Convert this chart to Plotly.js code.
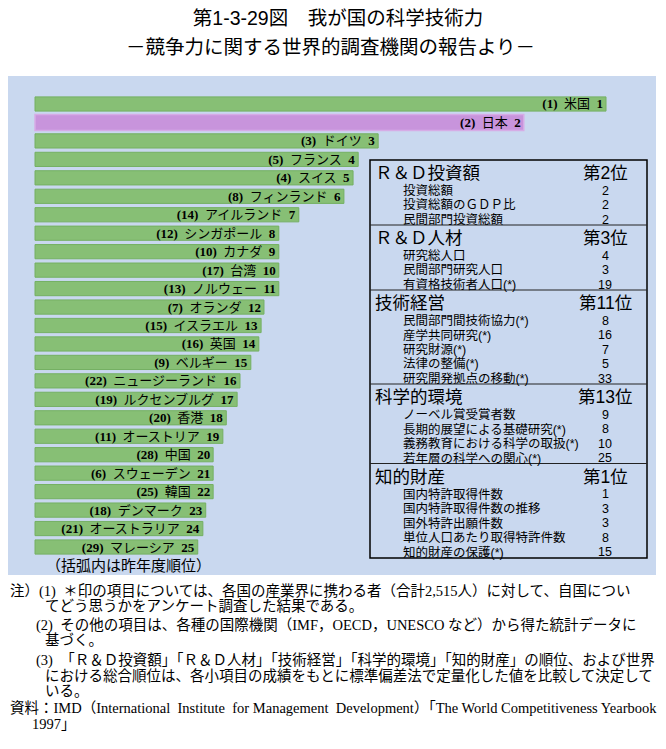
<!DOCTYPE html>
<html>
<head>
<meta charset="utf-8">
<script src="https://cdn.plot.ly/plotly-3.0.1.min.js"></script>
<style>
html,body{margin:0;padding:0;background:#fff;}
#chart{width:666px;height:749px;}
</style>
</head>
<body>
<div id="chart"></div>
<script>
// ---- data ----
const countries = ['米国','日本','ドイツ','フランス','スイス','フィンランド','アイルランド','シンガポール','カナダ','台湾','ノルウェー','オランダ','イスラエル','英国','ベルギー','ニュージーランド','ルクセンブルグ','香港','オーストリア','中国','スウェーデン','韓国','デンマーク','オーストラリア','マレーシア'];
const ranks = [1,2,3,4,5,6,7,8,9,10,11,12,13,14,15,16,17,18,19,20,21,22,23,24,25];
const prevRanks = [1,2,3,5,4,8,14,12,10,17,13,7,15,16,9,22,19,20,11,28,6,25,18,21,29];
const scores = [100,85.6,60.1,56.6,55.7,54.1,46.2,42.7,42.7,42.7,42.7,40.1,39.6,39.2,37.8,35.9,35.4,33.5,32.9,31.2,31.2,31.2,29.9,29.4,28.5];

const sectionNames = ['Ｒ＆Ｄ投資額','Ｒ＆Ｄ人材','技術経営','科学的環境','知的財産'];
const sectionRanks = ['第2位','第3位','第11位','第13位','第1位'];
const sectionItems = [
  ['投資総額','投資総額のＧＤＰ比','民間部門投資総額'],
  ['研究総人口','民間部門研究人口','有資格技術者人口(*)'],
  ['民間部門間技術協力(*)','産学共同研究(*)','研究財源(*)','法律の整備(*)','研究開発拠点の移動(*)'],
  ['ノーベル賞受賞者数','長期的展望による基礎研究(*)','義務教育における科学の取扱(*)','若年層の科学への関心(*)'],
  ['国内特許取得件数','国内特許取得件数の推移','国外特許出願件数','単位人口あたり取得特許件数','知的財産の保護(*)']
];
const sectionValues = [
  [2,2,2],
  [4,3,19],
  [8,16,7,5,33],
  [9,8,10,25],
  [1,3,3,8,15]
];

const titleText = '第1-3-29図　我が国の科学技術力';
const subtitleText = '－競争力に関する世界的調査機関の報告より－';
const noteParen = '（括弧内は昨年度順位）';
const notes = [
  '注）(1)  ＊印の項目については、各国の産業界に携わる者（合計2,515人）に対して、自国につい',
  'てどう思うかをアンケート調査した結果である。',
  '(2)  その他の項目は、各種の国際機関（IMF，OECD，UNESCO など）から得た統計データに',
  '基づく。',
  '(3)  「Ｒ＆Ｄ投資額」「Ｒ＆Ｄ人材」「技術経営」「科学的環境」「知的財産」の順位、および世界',
  'における総合順位は、各小項目の成績をもとに標準偏差法で定量化した値を比較して決定して',
  'いる。',
  '資料：IMD（International  Institute  for Management  Development）「The World Competitiveness Yearbook',
  '1997」'
];

// ---- layout helpers ----
const L = 8, T = 76, W = 648, H = 499;
const px = x => (x - L) / W;
const py = y => 1 - (y - T) / H;
const JPS = 'Liberation Sans, Noto Sans CJK JP, sans-serif';
const JPSERIF = 'Liberation Serif, Noto Sans CJK JP, serif';

const colors = countries.map((c, i) => i === 1 ? '#C894DC' : '#87BF75');
const lineColors = countries.map((c, i) => i === 1 ? '#D6ACE6' : '#74B062');
const lineWidths = countries.map((c, i) => i === 1 ? 1.5 : 1);
const widths = countries.map((c, i) => i === 1 ? 0.86 : 0.77);
const labels = countries.map((c, i) => '<b>(' + prevRanks[i] + ')</b>  ' + c + '  <b>' + ranks[i] + '</b>');

const trace = {
  type: 'bar',
  orientation: 'h',
  x: scores,
  y: countries,
  width: widths,
  text: labels,
  textposition: 'inside',
  insidetextanchor: 'end',
  constraintext: 'none',
  textangle: 0,
  insidetextfont: {family: JPSERIF, size: 13, color: '#000'},
  marker: {color: colors, line: {color: lineColors, width: lineWidths}},
  hoverinfo: 'none'
};

const pxPerUnit = 5.71;
const annotations = [];
const shapes = [];

// subtitle
annotations.push({xref: 'paper', yref: 'paper', x: px(330), y: py(47), xanchor: 'center', yanchor: 'middle',
  text: subtitleText, showarrow: false, font: {family: JPS, size: 19.5, color: '#000'}});

// paren note
annotations.push({xref: 'paper', yref: 'paper', x: px(44), y: py(565), xanchor: 'left', yanchor: 'middle',
  text: noteParen, showarrow: false, font: {family: JPS, size: 15, color: '#000'}});

// box
const boxTop = 160;
shapes.push({type: 'rect', xref: 'paper', yref: 'paper', x0: px(370), x1: px(647), y0: py(boxTop), y1: py(558),
  line: {color: '#000', width: 1.5}, fillcolor: 'rgba(0,0,0,0)'});

let s = boxTop;
sectionNames.forEach((name, k) => {
  const hy = s + 13;
  annotations.push({xref: 'paper', yref: 'paper', x: px(373), y: py(hy), xanchor: 'left', yanchor: 'middle',
    text: name, showarrow: false, font: {family: JPS, size: 17.5, color: '#000'}});
  annotations.push({xref: 'paper', yref: 'paper', x: px(605), y: py(hy), xanchor: 'center', yanchor: 'middle',
    text: sectionRanks[k], showarrow: false, font: {family: JPS, size: 17.5, color: '#000'}});
  let last = hy;
  sectionItems[k].forEach((item, j) => {
    const iy = s + 30.5 + 14.5 * j;
    last = iy;
    annotations.push({xref: 'paper', yref: 'paper', x: px(401), y: py(iy), xanchor: 'left', yanchor: 'middle',
      text: item, showarrow: false, font: {family: JPS, size: 12.5, color: '#000'}});
    annotations.push({xref: 'paper', yref: 'paper', x: px(605), y: py(iy), xanchor: 'center', yanchor: 'middle',
      text: String(sectionValues[k][j]), showarrow: false, font: {family: JPS, size: 12.5, color: '#000'}});
  });
  s = last + 5.5;
  if (k < sectionNames.length - 1) {
    shapes.push({type: 'line', xref: 'paper', yref: 'paper', x0: px(370), x1: px(647), y0: py(s), y1: py(s),
      line: {color: '#222', width: 1}});
  }
});

// notes
const noteX = [8, 43, 34, 43, 34, 43, 43, 8, 30];
const noteY = [591, 606, 625, 640, 660, 676, 691, 708, 724];
notes.forEach((t, i) => {
  annotations.push({xref: 'paper', yref: 'paper', x: px(noteX[i]), y: py(noteY[i]), xanchor: 'left', yanchor: 'middle',
    text: t, showarrow: false, font: {family: JPSERIF, size: 14.5, color: '#000'}});
});

const layout = {
  width: 666, height: 749,
  margin: {l: L, r: 666 - L - W, t: T, b: 749 - T - H, pad: 0},
  paper_bgcolor: '#FFFFFF',
  plot_bgcolor: '#C9D8EF',
  showlegend: false,
  title: {text: titleText, x: 338 / 666, xanchor: 'center', xref: 'container', yref: 'container',
    y: 1 - 18 / 749, yanchor: 'middle', font: {family: JPS, size: 19.5, color: '#000'}},
  xaxis: {range: [-27 / pxPerUnit, (W - 27) / pxPerUnit], visible: false, fixedrange: true},
  yaxis: {type: 'category', range: [24 + 28 / 18.46, -28 / 18.46], visible: false, fixedrange: true},
  annotations: annotations,
  shapes: shapes
};

Plotly.newPlot('chart', [trace], layout, {displayModeBar: false, staticPlot: true});
</script>
</body>
</html>
